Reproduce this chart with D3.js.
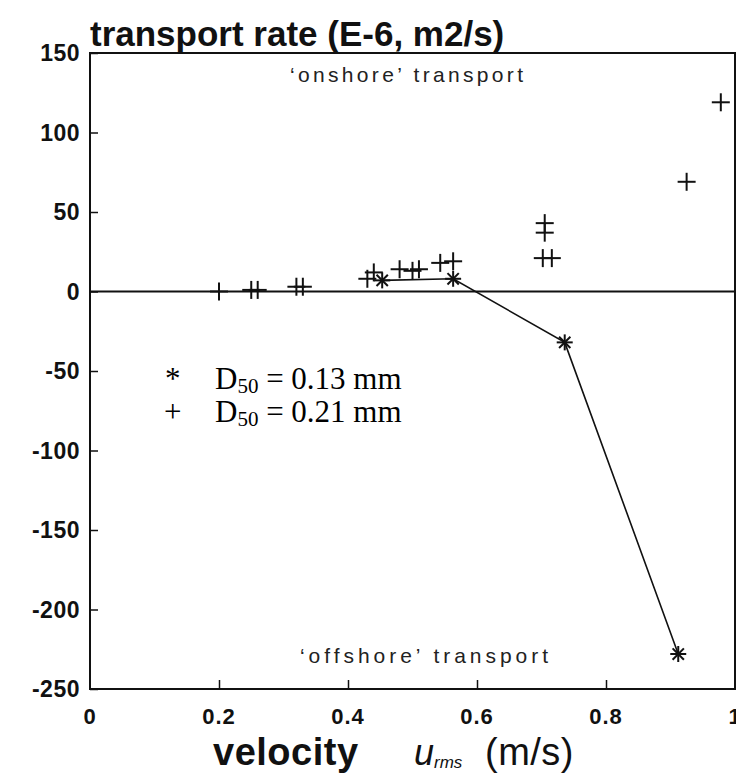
<!DOCTYPE html>
<html><head><meta charset="utf-8">
<script src="https://cdn.jsdelivr.net/npm/d3@7"></script>
<style>body{margin:0;background:#fff}svg{display:block}</style>
</head><body>
<svg id="c" width="736" height="774"></svg>
<script>
// D50 = 0.21 mm (plus markers)
const plusX = [0.20, 0.25, 0.26, 0.32, 0.33, 0.43, 0.44, 0.48, 0.50, 0.51, 0.543, 0.563, 0.705, 0.705, 0.702, 0.716, 0.925, 0.978];
const plusY = [0, 1, 1, 3, 3, 8, 12, 14, 13, 14, 18, 19, 43, 37, 21, 21, 69, 119];
// D50 = 0.13 mm (asterisk markers, connected)
const starX = [0.453, 0.563, 0.736, 0.912];
const starY = [7, 8, -32, -228];
const xTicks = [0, 0.2, 0.4, 0.6, 0.8, 1];
const yTicks = [150, 100, 50, 0, -50, -100, -150, -200, -250];

const svg = d3.select("#c");
const x = d3.scaleLinear().domain([0, 1]).range([90, 735]);
const y = d3.scaleLinear().domain([-250, 150]).range([689, 53]);
const ink = "#111";
const sans = "Liberation Sans, Arial, sans-serif";

// frame
svg.append("rect").attr("x", x(0)).attr("y", y(150)).attr("width", x(1) - x(0)).attr("height", y(-250) - y(150))
  .attr("fill", "none").attr("stroke", ink).attr("stroke-width", 2);
// zero line
svg.append("line").attr("x1", x(0)).attr("x2", x(1)).attr("y1", y(0)).attr("y2", y(0)).attr("stroke", ink).attr("stroke-width", 2.2);

// axes: inward ticks
const yAxis = d3.axisRight(y).tickValues(yTicks).tickSize(8).tickFormat("");
const gy = svg.append("g").attr("transform", `translate(${x(0)},0)`).call(yAxis);
gy.select(".domain").remove();
gy.selectAll("line").attr("stroke", ink).attr("stroke-width", 1.5);
const xAxis = d3.axisTop(x).tickValues(xTicks.slice(1, 5)).tickSize(9).tickFormat("");
const gx = svg.append("g").attr("transform", `translate(0,${y(-250)})`).call(xAxis);
gx.select(".domain").remove();
gx.selectAll("line").attr("stroke", ink).attr("stroke-width", 1.5);

// tick labels
svg.append("g").selectAll("text").data(yTicks).join("text")
  .attr("x", 80).attr("y", d => y(d) + 8).attr("text-anchor", "end")
  .attr("font-family", sans).attr("font-weight", "bold").attr("font-size", 23).attr("letter-spacing", 0.5)
  .attr("fill", ink).text(d => d < 0 ? "-" + Math.abs(d) : d);
svg.append("g").selectAll("text").data(xTicks).join("text")
  .attr("x", d => x(d)).attr("y", 724).attr("text-anchor", "middle")
  .attr("font-family", sans).attr("font-weight", "bold").attr("font-size", 22).attr("letter-spacing", 1)
  .attr("fill", ink).text(d => d);

// title
svg.append("text").attr("x", 90).attr("y", 46).attr("font-family", sans).attr("font-weight", "bold")
  .attr("font-size", 35).attr("fill", ink).text("transport rate (E-6, m2/s)");

// x title
const xt = svg.append("text").attr("y", 765).attr("font-family", sans).attr("fill", ink);
xt.append("tspan").attr("x", 213).attr("font-weight", "bold").attr("font-size", 38).attr("letter-spacing", 0.5).text("velocity");
xt.append("tspan").attr("x", 414).attr("font-style", "italic").attr("font-size", 36).text("u");
xt.append("tspan").attr("dy", 3).attr("font-style", "italic").attr("font-size", 17).text("rms");
xt.append("tspan").attr("x", 485).attr("dy", -3).attr("font-size", 38).attr("letter-spacing", 0.5).text("(m/s)");

// annotations
svg.append("text").attr("x", 290).attr("y", 82).attr("font-family", sans)
  .attr("font-size", 21).attr("textLength", 233).attr("lengthAdjust", "spacing").attr("fill", "#222").text("\u2018onshore\u2019 transport");
svg.append("text").attr("x", 300).attr("y", 663).attr("font-family", sans)
  .attr("font-size", 21).attr("textLength", 248).attr("lengthAdjust", "spacing").attr("fill", "#222").text("\u2018offshore\u2019 transport");

// star line
const stars = starX.map((d, i) => [d, starY[i]]);
svg.append("path").datum(stars).attr("fill", "none").attr("stroke", ink).attr("stroke-width", 1.6)
  .attr("d", d3.line().x(d => x(d[0])).y(d => y(d[1])));

// star markers
const sg = svg.append("g").selectAll("g").data(stars).join("g")
  .attr("transform", d => `translate(${x(d[0])},${y(d[1])})`);
[0, 45, 90, 135].forEach(a => {
  sg.append("line").attr("x1", -8).attr("x2", 8).attr("y1", 0).attr("y2", 0)
    .attr("transform", `rotate(${a})`).attr("stroke", ink).attr("stroke-width", 2);
});

// plus markers
const pts = plusX.map((d, i) => [d, plusY[i]]);
const pg = svg.append("g").selectAll("g").data(pts).join("g")
  .attr("transform", d => `translate(${x(d[0])},${y(d[1])})`);
pg.append("line").attr("x1", -9).attr("x2", 9).attr("stroke", ink).attr("stroke-width", 2);
pg.append("line").attr("y1", -9).attr("y2", 9).attr("stroke", ink).attr("stroke-width", 2);

// legend
const lf = "Liberation Serif, Times New Roman, serif";
svg.append("text").attr("x", 165).attr("y", 389).attr("font-family", lf).attr("font-size", 31).attr("fill", "#000").text("*");
svg.append("text").attr("x", 164).attr("y", 422).attr("font-family", lf).attr("font-size", 31).attr("fill", "#000").text("+");
[["0.13", 389], ["0.21", 422]].forEach(([v, yy]) => {
  const t = svg.append("text").attr("x", 215).attr("y", yy).attr("font-family", lf).attr("font-size", 31).attr("fill", "#000");
  t.append("tspan").text("D");
  t.append("tspan").attr("font-size", 21).attr("dy", 4).text("50");
  t.append("tspan").attr("dy", -4).text(" = " + v + " mm");
});
</script>
</body></html>
